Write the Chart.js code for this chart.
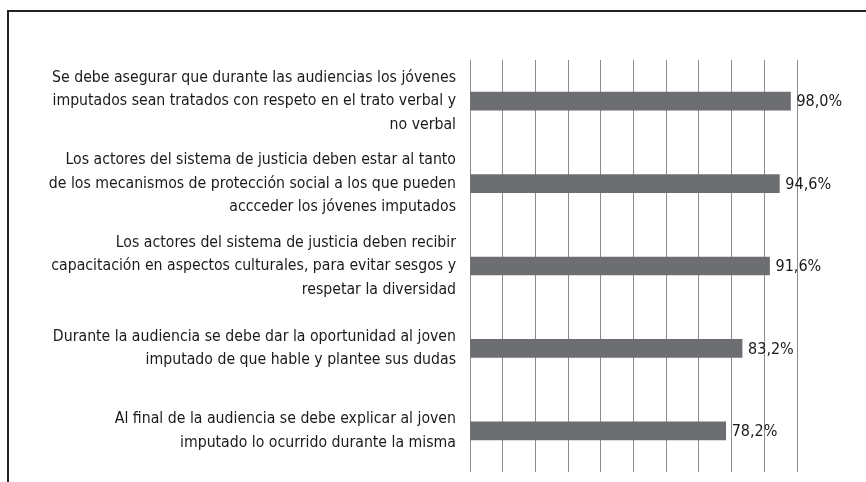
<!DOCTYPE html>
<html>
<head>
<meta charset="utf-8">
<script src="https://cdn.jsdelivr.net/npm/chart.js@4/dist/chart.umd.min.js"></script>
<style>
  html, body { margin: 0; padding: 0; background: #fff; }
  #wrap { position: relative; width: 866px; height: 482px; overflow: hidden; }
  #frame { position: absolute; left: 7px; top: 10px; width: 900px; height: 500px;
           border-top: 2px solid #222; border-left: 2px solid #222; box-sizing: border-box; }
  canvas { position: absolute; left: 0; top: 0; }
</style>
</head>
<body>
<div id="wrap">
  <div id="frame"></div>
  <canvas id="c" width="866" height="482"></canvas>
</div>
<script>
const categories = [
  ["Se debe asegurar que durante las audiencias los jóvenes", "imputados sean tratados con respeto en el trato verbal y", "no verbal"],
  ["Los actores del sistema de justicia deben estar al tanto", "de los mecanismos de protección social a los que pueden", "accceder los jóvenes imputados"],
  ["Los actores del sistema de justicia deben recibir", "capacitación en aspectos culturales, para evitar sesgos y", "respetar la diversidad"],
  ["Durante la audiencia se debe dar la oportunidad al joven", "imputado de que hable y plantee sus dudas"],
  ["Al final de la audiencia se debe explicar al joven", "imputado lo ocurrido durante la misma"]
];
const values = [98.0, 94.6, 91.6, 83.2, 78.2];
const axisMin = 0;
const axisMax = 100;
const axisStep = 10;

const FONT = "'Liberation Sans Narrow', 'DejaVu Sans Condensed', 'Arial Narrow', sans-serif";

const valueLabels = {
  id: 'valueLabels',
  afterDatasetsDraw(chart) {
    const ctx = chart.ctx;
    const meta = chart.getDatasetMeta(0);
    ctx.save();
    ctx.font = "16px " + FONT;
    ctx.fillStyle = '#1a1a1a';
    ctx.textAlign = 'left';
    ctx.textBaseline = 'middle';
    meta.data.forEach((bar, i) => {
      const txt = values[i].toFixed(1).replace('.', ',') + '%';
      ctx.fillText(txt, bar.x + 6, bar.y + 1);
    });
    ctx.restore();
  }
};

new Chart(document.getElementById('c'), {
  type: 'bar',
  data: {
    labels: categories,
    datasets: [{
      data: values,
      backgroundColor: '#6d6e71',
      borderWidth: 0,
      barThickness: 18
    }]
  },
  options: {
    indexAxis: 'y',
    responsive: false,
    animation: false,
    devicePixelRatio: 1,
    layout: { padding: { top: 60, right: 69, bottom: 10, left: 0 } },
    plugins: { legend: { display: false }, tooltip: { enabled: false } },
    scales: {
      x: {
        min: axisMin, max: axisMax,
        ticks: { display: false, stepSize: axisStep },
        grid: { color: '#8a8a8a', lineWidth: 1, drawTicks: false },
        border: { display: false },
        afterFit(scale) { scale.height = 0; scale.paddingLeft = 0; scale.paddingRight = 0; }
      },
      y: {
        afterFit(scale) { scale.width = 470; scale.paddingTop = 0; scale.paddingBottom = 0; },
        grid: { display: false, drawTicks: false },
        border: { display: false },
        ticks: {
          color: '#1a1a1a',
          padding: 14,
          font: { family: FONT, size: 15.7, lineHeight: 1.5 }
        }
      }
    }
  },
  plugins: [valueLabels]
});
</script>
</body>
</html>
